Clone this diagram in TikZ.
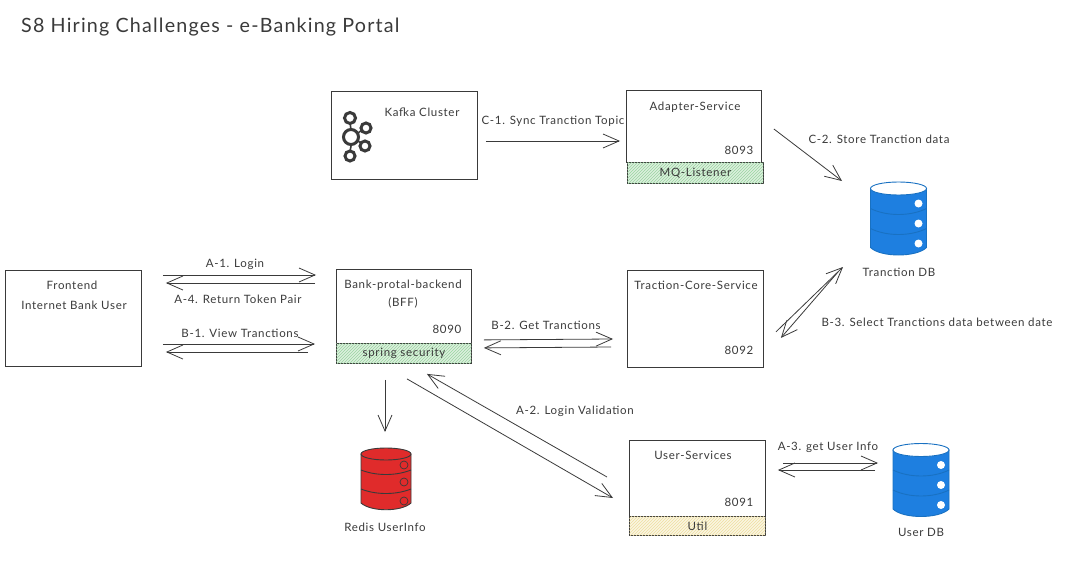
\documentclass[tikz,border=0pt]{standalone}
\usepackage{fontspec}
\setmainfont[LetterSpace=6]{Lato}
\usepackage{xcolor}
\usetikzlibrary{arrows.meta,patterns}
\definecolor{inkgray}{HTML}{3A3A3A}
\definecolor{dbblue}{HTML}{1E7FE0}
\definecolor{dbedge}{HTML}{1971C2}
\definecolor{dbred}{HTML}{E02B2B}
\definecolor{hatchgreen}{HTML}{9AD5A0}
\definecolor{hatchyellow}{HTML}{EFDFA0}
\tikzset{
  sketchbox/.style={draw=inkgray,line width=0.9pt,inner sep=0pt,fill=white},
  label/.style={text=inkgray,font=\fontsize{11.5}{13}\selectfont,inner sep=0pt,align=center},
  flow/.style={draw=inkgray,line width=0.8pt,-{Straight Barb[length=16pt,width=14pt,line width=0.8pt]}},
  pics/dbstack/.style={code={
    \draw[draw=dbedge,line width=0.9pt,fill=dbblue] (-28,-30) -- (-28,29)
      .. controls (-18,39) and (18,39) .. (28,29) -- (28,-30) -- cycle;
    \draw[draw=dbedge,line width=0.9pt,fill=white] (0,-30) ellipse (28 and 6.5);
    \foreach \ya in {-10,10}
      \draw[dbedge,line width=0.9pt] (-28,\ya) .. controls (-12,\ya+8) and (12,\ya+8) .. (28,\ya);
    \foreach \yb in {-15,5,25}
      \fill[white] (20,\yb) circle (4);
  }},
  pics/dbred/.style={code={
    \draw[draw=inkgray,line width=0.9pt,fill=dbred] (-25,-25) -- (-25,24)
      .. controls (-15,33) and (15,33) .. (25,24) -- (25,-25) -- cycle;
    \draw[draw=inkgray,line width=0.9pt,fill=dbred] (0,-25) ellipse (25 and 6);
    \foreach \ya in {-9,10}
      \draw[inkgray,line width=0.9pt] (-25,\ya) .. controls (-10,\ya+6) and (10,\ya+6) .. (25,\ya);
    \foreach \yb in {-14,3,22}
      \draw[draw=inkgray,line width=0.7pt] (18,\yb) circle (4);
  }}
}
\begin{document}
\begin{tikzpicture}[x=1pt,y=-1pt]
  \useasboundingbox (0,0) rectangle (1073,575);
  \node[anchor=west,text=inkgray,font=\fontsize{19.7}{22}\selectfont,inner sep=0pt] (title) at (21,27) {S8 Hiring Challenges - e-Banking Portal};

  % Boxes
  \node[sketchbox,anchor=north west,minimum width=136pt,minimum height=96pt] (frontend) at (5,270) {};
  \node[sketchbox,anchor=north west,minimum width=146pt,minimum height=88pt] (kafka) at (331,91) {};
  \node[sketchbox,anchor=north west,minimum width=135pt,minimum height=72pt] (adapter) at (626,90) {};
  \node[sketchbox,anchor=north west,minimum width=136pt,minimum height=21pt,fill=hatchgreen!35,postaction={pattern=north east lines,pattern color=hatchgreen}] (mqlistener) at (627,162) {};
  \node[sketchbox,anchor=north west,minimum width=136pt,minimum height=97pt] (core) at (627,270) {};
  \node[sketchbox,anchor=north west,minimum width=135pt,minimum height=74pt] (bff) at (336,269) {};
  \node[sketchbox,anchor=north west,minimum width=135pt,minimum height=20pt,fill=hatchgreen!35,postaction={pattern=north east lines,pattern color=hatchgreen}] (security) at (336,343) {};
  \node[sketchbox,anchor=north west,minimum width=136pt,minimum height=76pt] (userservice) at (629,440) {};
  \node[sketchbox,anchor=north west,minimum width=136pt,minimum height=19pt,fill=hatchyellow!30,postaction={pattern=north east lines,pattern color=hatchyellow}] (util) at (629,516) {};

  % Box texts
  \node[label] (frontendtext) at (72,285) {Frontend};
  \node[label] (internettext) at (74,305) {Internet Bank User};
  \node[label] (kafkatext) at (422,112) {Kafka Cluster};
  \node[label] (adaptertext) at (695,107) {Adapter-Service};
  \node[label] (port93) at (739,150) {8093};
  \node[label] at (mqlistener.center) {MQ-Listener};
  \node[label] (coretext) at (696,285) {Traction-Core-Service};
  \node[label] (port92) at (739,350) {8092};
  \node[label] (bfftext) at (403,285) {Bank-protal-backend};
  \node[label] (bffsub) at (403,303) {(BFF)};
  \node[label] (port90) at (447,329) {8090};
  \node[label] at (security.center) {spring security};
  \node[label] (usertext) at (693,455) {User-Services};
  \node[label] (port91) at (739,502) {8091};
  \node[label] at (util.center) {Util};

  % Kafka icon
  \draw[inkgray,line width=1.6pt] (350,122) -- (351,130) (351,146) -- (350,152) (358,133) -- (362,130) (358,141) -- (362,144);
  \foreach \nx/\ny/\nr in {350/118/7,366/128/6.5,351/137/9,365/146/6.5,350/156/6.5}{
    \draw[draw=inkgray,line width=3pt,fill=white] (\nx,\ny) circle (\nr-1.5);
  }

  % Databases
  \pic (dbtraction) at (898.5,218.5) {dbstack};
  \pic (dbuser) at (921,480) {dbstack};
  \pic (dbredis) at (386,479) {dbred};
  \node[label] (tractiondb) at (899,272) {Tranction DB};
  \node[label] (userdb) at (921,532) {User DB};
  \node[label] (redisdb) at (385,527) {Redis UserInfo};

  % Connectors
  \draw[flow] ([shift={(21,5)}]frontend.north east) -- ([shift={(-20,6)}]bff.north west);
  \draw[flow] ([shift={(-21,14)}]bff.north west) -- ([shift={(24,13)}]frontend.north east);
  \draw[flow] ([shift={(21,74)}]frontend.north east) -- ([shift={(-21,75)}]bff.north west);
  \draw[flow] ([shift={(-28,83)}]bff.north west) -- ([shift={(24,82)}]frontend.north east);
  \draw[flow] ([shift={(8,50)}]kafka.north east) -- ([shift={(-6,51)}]adapter.north west);
  \draw[flow] ([shift={(12,39)}]adapter.north east) -- ([shift={(-57,-91)}]tractiondb.center);
  \draw[flow] ([shift={(12,-4)}]bff.south east) -- ([shift={(-14,69)}]core.north west);
  \draw[flow] ([shift={(-16,77)}]core.north west) -- ([shift={(12,4)}]bff.south east);
  \draw[flow] ([shift={(12,-36)}]core.south east) -- ([shift={(-56,-5)}]tractiondb.center);
  \draw[flow] ([shift={(-61,0)}]tractiondb.center) -- ([shift={(17,-30)}]core.south east);
  \draw[flow] ([shift={(-22,-39)}]util.north west) -- ([shift={(-45,10)}]security.south east);
  \draw[flow] ([shift={(71,15)}]security.south west) -- ([shift={(-16,-18)}]util.north west);
  \draw[flow] ([shift={(17,23)}]userservice.north east) -- ([shift={(-43,-69)}]userdb.center);
  \draw[flow] ([shift={(-46,-62)}]userdb.center) -- ([shift={(12,30)}]userservice.north east);
  \draw[flow] ([shift={(49,16)}]security.south west) -- ([shift={(0,-95)}]redisdb.center);

  % Connector texts
  \node[label] (a1) at (235,264) {A-1. Login};
  \node[label] (a4) at (238,299) {A-4. Return Token Pair};
  \node[label] (b1) at (240,333) {B-1. View Tranctions};
  \node[label] (c1) at (553,121) {C-1. Sync Tranction Topic};
  \node[label] (c2) at (879,139) {C-2. Store Tranction data};
  \node[label] (b2) at (546,325) {B-2. Get Tranctions};
  \node[label] (b3) at (937,322) {B-3. Select Tranctions data between date};
  \node[label] (a2) at (575,411) {A-2. Login Validation};
  \node[label] (a3) at (828,447) {A-3. get User Info};
\end{tikzpicture}
\end{document}
